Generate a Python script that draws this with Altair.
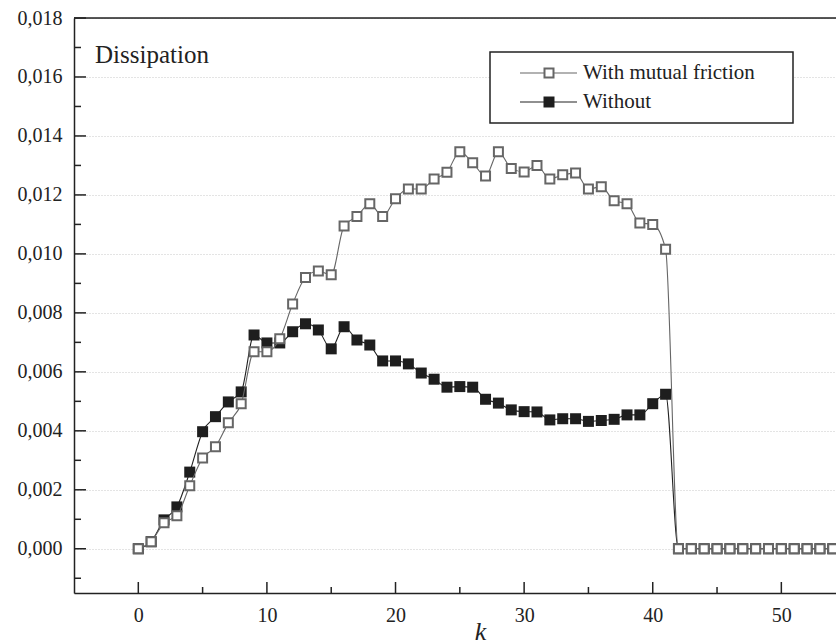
import altair as alt
import pandas as pd

k = list(range(0, 55))
with_friction = [
    0.0000, 0.00024, 0.00088, 0.00112, 0.00214, 0.00308, 0.00346, 0.00427, 0.00492, 0.00668,
    0.00668, 0.00712, 0.00830, 0.00920, 0.00942, 0.00929, 0.01095, 0.01127, 0.01170, 0.01127,
    0.01187, 0.01220, 0.01220, 0.01254, 0.01277, 0.01346, 0.01309, 0.01264, 0.01346, 0.01290,
    0.01278, 0.01300, 0.01254, 0.01268, 0.01274, 0.01220, 0.01228, 0.01180, 0.01170, 0.01105,
    0.01100, 0.01016] + [0.0] * 13
without = [
    0.0000, 0.00024, 0.00098, 0.00142, 0.00260, 0.00397, 0.00448, 0.00498, 0.00532, 0.00725,
    0.00698, 0.00698, 0.00736, 0.00763, 0.00742, 0.00678, 0.00753, 0.00708, 0.00691, 0.00637,
    0.00637, 0.00627, 0.00596, 0.00575, 0.00548, 0.00550, 0.00548, 0.00507, 0.00494, 0.00471,
    0.00465, 0.00464, 0.00437, 0.00441, 0.00441, 0.00432, 0.00435, 0.00439, 0.00454, 0.00454,
    0.00492, 0.00524] + [0.0] * 13
series_names = ["With mutual friction", "Without"]

x_major = [0, 10, 20, 30, 40, 50]
x_minor = [5, 15, 25, 35, 45]
y_major = [0.000, 0.002, 0.004, 0.006, 0.008, 0.010, 0.012, 0.014, 0.016, 0.018]
y_minor = [-0.001, 0.001, 0.003, 0.005, 0.007, 0.009, 0.011, 0.013, 0.015, 0.017]

W, H = 762, 575
FONT = "Liberation Serif"
xdom = [-5, 54.25]
ydom = [-0.0015, 0.018]

xs = alt.Scale(domain=xdom, nice=False, zero=False)
ys = alt.Scale(domain=ydom, nice=False, zero=False)

df = pd.DataFrame({"k": k, "wf": with_friction, "wo": without})

xaxis = alt.Axis(values=x_major, ticks=False, tickSize=0, labelPadding=12, domain=True,
                 domainColor="#222", domainWidth=1.5, grid=False, labelFont=FONT,
                 labelFontSize=20, labelColor="#222", title="k", titleFont=FONT,
                 titleFontStyle="italic", titleFontWeight="normal", titleFontSize=26,
                 titleColor="#222", titleX=406, titleY=46, titleBaseline="alphabetic")
yaxis = alt.Axis(values=y_major, ticks=False, tickSize=0, labelPadding=12, domain=True,
                 domainColor="#222", domainWidth=1.5, grid=True, gridColor="#c8c8c8",
                 gridDash=[1, 2], gridWidth=1, labelFont=FONT, labelFontSize=20,
                 labelColor="#222", title=None,
                 labelExpr="replace(format(datum.value, '.3f'), '.', ',')")

base = alt.Chart(df)

grid_axes = base.mark_point(opacity=0).encode(
    x=alt.X("k:Q", scale=xs, axis=xaxis),
    y=alt.Y("wf:Q", scale=ys, axis=yaxis),
)

line_wo = base.mark_line(interpolate="monotone", color="#222", strokeWidth=1.1).encode(
    x=alt.X("k:Q", scale=xs), y=alt.Y("wo:Q", scale=ys))
pts_wo = base.mark_point(shape="square", filled=True, size=121, color="#1e1e1e", opacity=1).encode(
    x=alt.X("k:Q", scale=xs), y=alt.Y("wo:Q", scale=ys))
line_wf = base.mark_line(interpolate="monotone", color="#666", strokeWidth=1.1).encode(
    x=alt.X("k:Q", scale=xs), y=alt.Y("wf:Q", scale=ys))
pts_wf = base.mark_point(shape="square", filled=False, size=81, stroke="#666", strokeWidth=2,
                         fill="white", fillOpacity=1, opacity=1).encode(
    x=alt.X("k:Q", scale=xs), y=alt.Y("wf:Q", scale=ys))

# inward tick marks
xt_major = alt.Chart(pd.DataFrame({"t": x_major})).mark_rule(color="#222", strokeWidth=1.5).encode(
    x=alt.X("t:Q", scale=xs), y=alt.value(H), y2=alt.value(H - 11))
xt_minor = alt.Chart(pd.DataFrame({"t": x_minor})).mark_rule(color="#222", strokeWidth=1.5).encode(
    x=alt.X("t:Q", scale=xs), y=alt.value(H), y2=alt.value(H - 6))
yt_major = alt.Chart(pd.DataFrame({"t": y_major})).mark_rule(color="#222", strokeWidth=1.5).encode(
    y=alt.Y("t:Q", scale=ys), x=alt.value(0), x2=alt.value(12))
yt_minor = alt.Chart(pd.DataFrame({"t": y_minor})).mark_rule(color="#222", strokeWidth=1.5).encode(
    y=alt.Y("t:Q", scale=ys), x=alt.value(0), x2=alt.value(7))
top_border = alt.Chart(pd.DataFrame({"a": [0]})).mark_rule(color="#222", strokeWidth=1.5).encode(
    y=alt.value(0), x=alt.value(0), x2=alt.value(W))

label_title = alt.Chart(pd.DataFrame({"t": ["Dissipation"]})).mark_text(
    font=FONT, fontSize=25, align="left", baseline="middle", color="#222").encode(
    text="t:N", x=alt.value(21), y=alt.value(37))

# legend
leg = pd.DataFrame({"a": [0]})
leg_box = alt.Chart(leg).mark_rect(fill="white", stroke="#222", strokeWidth=1.5).encode(
    x=alt.value(416), x2=alt.value(719), y=alt.value(34), y2=alt.value(105))
leg_l1 = alt.Chart(leg).mark_rule(color="#666", strokeWidth=1.1).encode(
    x=alt.value(446), x2=alt.value(503), y=alt.value(55))
leg_l2 = alt.Chart(leg).mark_rule(color="#222", strokeWidth=1.1).encode(
    x=alt.value(446), x2=alt.value(503), y=alt.value(84))
leg_p1 = alt.Chart(leg).mark_point(shape="square", filled=False, size=81, stroke="#666",
                                   strokeWidth=2, fill="white", fillOpacity=1, opacity=1).encode(
    x=alt.value(475), y=alt.value(55))
leg_p2 = alt.Chart(leg).mark_point(shape="square", filled=True, size=121, color="#1e1e1e",
                                   opacity=1).encode(x=alt.value(475), y=alt.value(84))
leg_t1 = alt.Chart(pd.DataFrame({"t": [series_names[0]]})).mark_text(
    font=FONT, fontSize=21, align="left", baseline="middle", color="#222").encode(
    text="t:N", x=alt.value(509), y=alt.value(55))
leg_t2 = alt.Chart(pd.DataFrame({"t": [series_names[1]]})).mark_text(
    font=FONT, fontSize=21, align="left", baseline="middle", color="#222").encode(
    text="t:N", x=alt.value(509), y=alt.value(84))

chart = alt.layer(
    grid_axes, line_wo, pts_wo, line_wf, pts_wf,
    xt_major, xt_minor, yt_major, yt_minor, top_border,
    label_title, leg_box, leg_l1, leg_l2, leg_p1, leg_p2, leg_t1, leg_t2,
).properties(
    width=W, height=H,
    autosize=alt.AutoSizeParams(type="none"),
    padding={"left": 74, "top": 18, "right": 0, "bottom": 51},
).configure_view(stroke=None).configure(background="white")

chart.save("out.html", embed_options={"renderer": "svg", "actions": False})
